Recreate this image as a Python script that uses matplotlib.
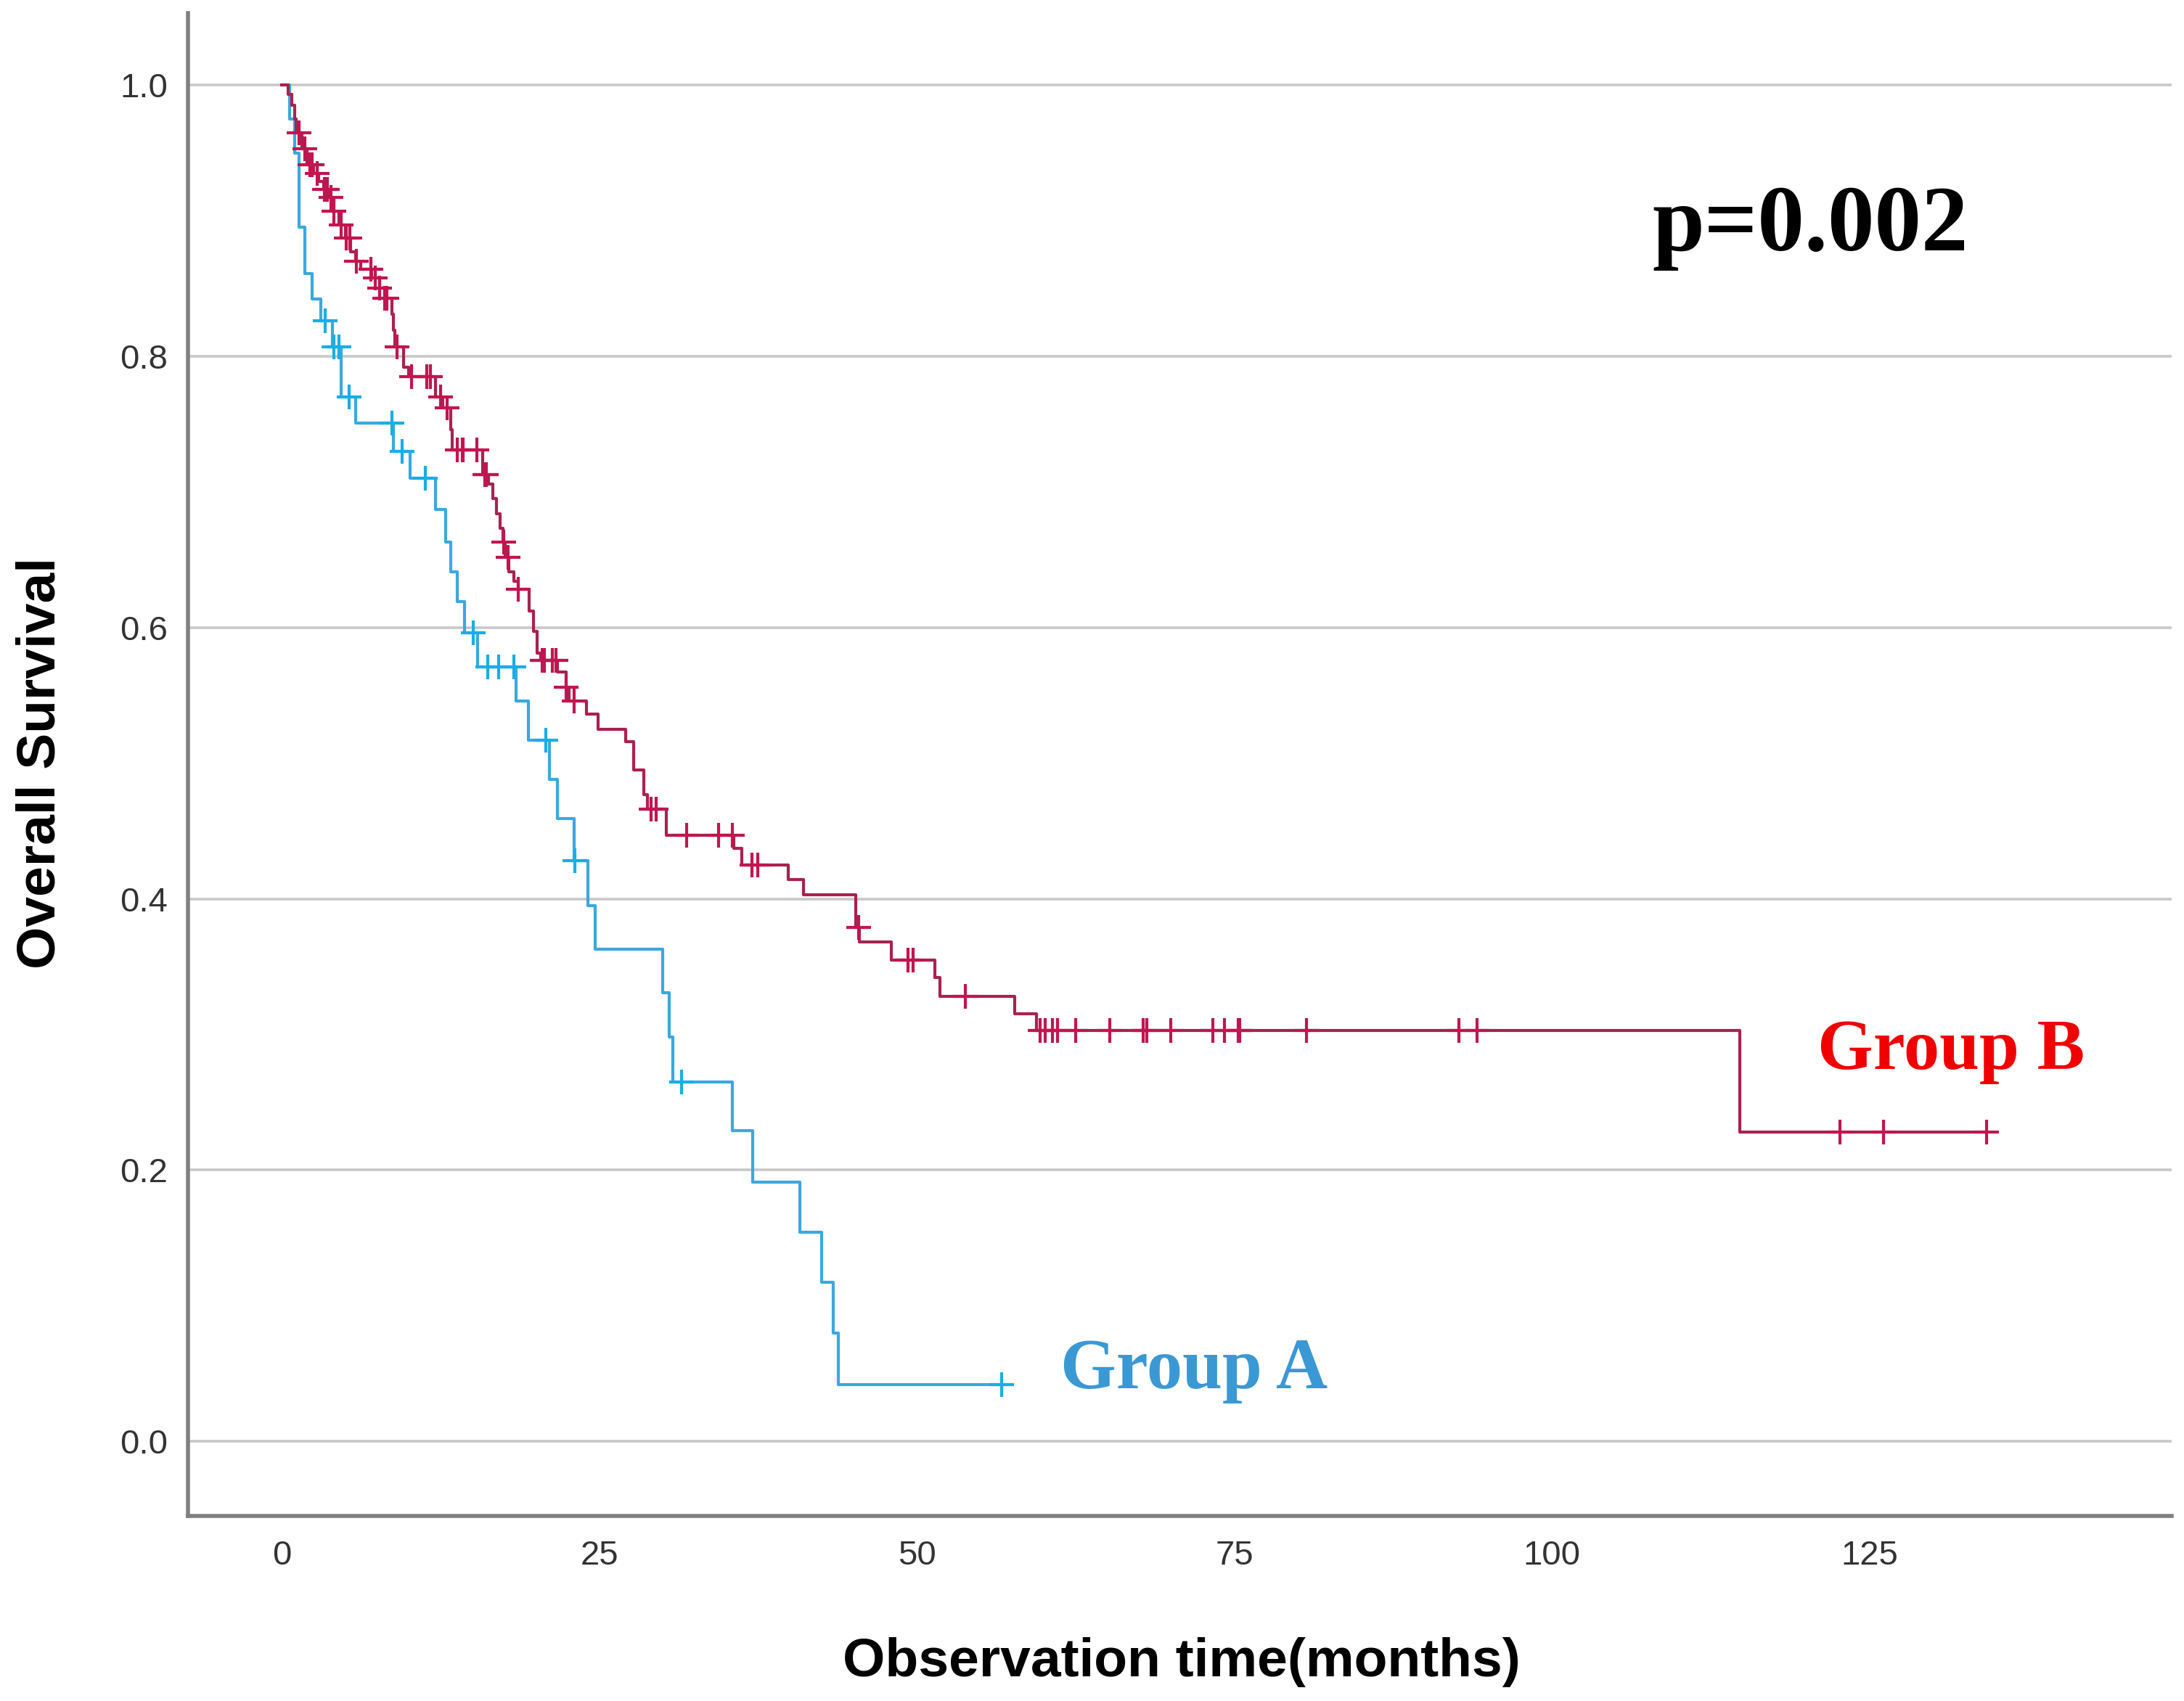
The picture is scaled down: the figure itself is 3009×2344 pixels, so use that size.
import numpy as np
import matplotlib.pyplot as plt

# Kaplan-Meier steps (months, survival after the step)
blue_times = [0, 0.6, 1.0, 1.35, 1.8, 2.4, 3.1, 4.0, 4.7, 5.8,
              8.8, 10.1, 12.1, 12.9, 13.3, 13.8, 14.4, 15.4, 18.45, 19.4,
              21.1, 21.7, 23.0, 24.1, 24.7, 30.0, 30.5, 30.8, 35.5, 37.1,
              40.8, 42.5, 43.4, 43.8]
blue_surv = [1.0, 0.975, 0.95, 0.895, 0.861, 0.842, 0.826, 0.807, 0.770, 0.751,
             0.730, 0.710, 0.687, 0.663, 0.641, 0.619, 0.596, 0.571, 0.546, 0.517,
             0.488, 0.459, 0.428, 0.395, 0.363, 0.331, 0.298, 0.265, 0.229, 0.191,
             0.154, 0.117, 0.080, 0.042]
blue_censor = [3.4, 4.1, 4.5, 5.3, 8.7, 9.5, 11.3, 15.1, 16.2, 17.1, 18.3,
               20.8, 23.1, 31.5, 56.7]

red_times = [0, 0.5, 0.8, 1.0, 1.15, 1.6, 2.0, 2.5, 2.9, 3.3,
             3.7, 4.1, 4.5, 5.0, 5.4, 5.8, 6.2, 7.1, 7.7, 8.1,
             8.7, 8.8, 8.9, 9.6, 10.0, 12.1, 12.7, 13.3, 13.4, 15.8,
             16.3, 16.6, 16.9, 17.2, 17.4, 17.6, 17.9, 18.3, 18.6, 19.5,
             19.8, 20.1, 20.4, 21.7, 22.4, 22.6, 24.0, 24.9, 27.1, 27.7,
             28.5, 28.8, 30.3, 35.6, 36.2, 39.9, 41.1, 45.2, 45.5, 48.0,
             51.4, 51.8, 57.7, 59.4, 114.8]
red_surv = [1.0, 0.993, 0.985, 0.975, 0.965, 0.953, 0.941, 0.935, 0.929, 0.923,
            0.917, 0.907, 0.897, 0.887, 0.877, 0.870, 0.864, 0.858, 0.850, 0.843,
            0.831, 0.819, 0.807, 0.792, 0.785, 0.770, 0.762, 0.746, 0.731, 0.713,
            0.706, 0.695, 0.684, 0.673, 0.663, 0.652, 0.641, 0.634, 0.628, 0.612,
            0.597, 0.581, 0.576, 0.567, 0.556, 0.546, 0.536, 0.525, 0.516, 0.495,
            0.477, 0.466, 0.447, 0.437, 0.425, 0.414, 0.403, 0.379, 0.368, 0.355,
            0.342, 0.328, 0.315, 0.303, 0.228]
red_censor = [1.35, 1.83, 2.2, 2.4, 2.8, 3.35, 3.6, 3.9, 4.1, 4.7, 5.1, 5.35, 5.9,
              7.0, 7.35, 7.7, 8.1, 8.3, 9.1, 10.2, 11.45, 11.7, 12.5, 13.0, 13.8,
              14.2, 14.3, 15.35, 16.0, 16.1, 17.5, 17.8, 18.6, 20.5, 20.7, 21.3,
              21.6, 22.4, 23.0, 29.1, 29.5, 31.9, 34.4, 35.5, 37.0, 37.5, 45.4,
              49.3, 49.7, 53.8, 59.7, 60.1, 60.7, 61.1, 62.5, 65.2, 67.8, 68.1,
              70.0, 73.3, 74.2, 75.3, 75.4, 80.7, 92.7, 94.1, 122.7, 126.1, 134.2]

x_ticks = [0, 25, 50, 75, 100, 125]
y_ticks = [0.0, 0.2, 0.4, 0.6, 0.8, 1.0]

sans = ['Liberation Sans', 'DejaVu Sans']
serif = ['Liberation Serif', 'DejaVu Serif']


def km_curve(ax, times, surv, censor, line_color, mark_color):
    times = np.array(times)
    surv = np.array(surv)
    end = max(censor[-1], times[-1])
    xs = np.append(times, end)
    ys = np.append(surv, surv[-1])
    ax.step(xs, ys, where='post', color=line_color, lw=3.0, zorder=3)
    idx = np.searchsorted(times, censor, side='right') - 1
    ax.plot(censor, surv[idx], ls='none', marker='+', ms=24, mew=3.0,
            color=mark_color, zorder=4)


fig = plt.figure(figsize=(30.09, 23.44), dpi=100)
ax = fig.add_axes([0.0861, 0.1088, 0.9083, 0.8835])

km_curve(ax, blue_times, blue_surv, blue_censor, '#3aa9dd', '#18aee6')
km_curve(ax, red_times, red_surv, red_censor, '#a8224f', '#c2154f')

ax.set_xlim(-7.37, 148.8)
ax.set_ylim(-0.055, 1.053)
ax.set_xticks(x_ticks)
ax.set_yticks(y_ticks)
ax.set_yticklabels([f'{v:.1f}' for v in y_ticks])
ax.tick_params(length=0, labelsize=34, colors='#333333')
ax.tick_params(axis='x', pad=24)
ax.tick_params(axis='y', pad=20)
for lab in ax.get_xticklabels() + ax.get_yticklabels():
    lab.set_family(sans)

for y in y_ticks:
    ax.axhline(y, color='#c8c8c8', lw=2.6, zorder=1)

for s in ['top', 'right']:
    ax.spines[s].set_visible(False)
for s in ['left', 'bottom']:
    ax.spines[s].set_color('#808080')
    ax.spines[s].set_linewidth(4)

fig.text(0.541, 0.023, 'Observation time(months)', ha='center', va='center',
         fontsize=54, fontweight='bold', family=sans)
fig.text(0.0186, 0.5516, 'Overall Survival', ha='center', va='center',
         rotation=90, fontsize=54, fontweight='bold', family=sans)

ax.text(107.9, 0.878, 'p=0.002', ha='left', va='baseline', fontsize=93,
        fontweight='bold', family=serif, color='black')
ax.text(120.9, 0.2745, 'Group B', ha='left', va='baseline', fontsize=71,
        fontweight='bold', family=serif, color='#f00000')
ax.text(61.3, 0.039, 'Group A', ha='left', va='baseline', fontsize=71,
        fontweight='bold', family=serif, color='#3a98d4')

fig.savefig('out.png', dpi=100, facecolor='white')
